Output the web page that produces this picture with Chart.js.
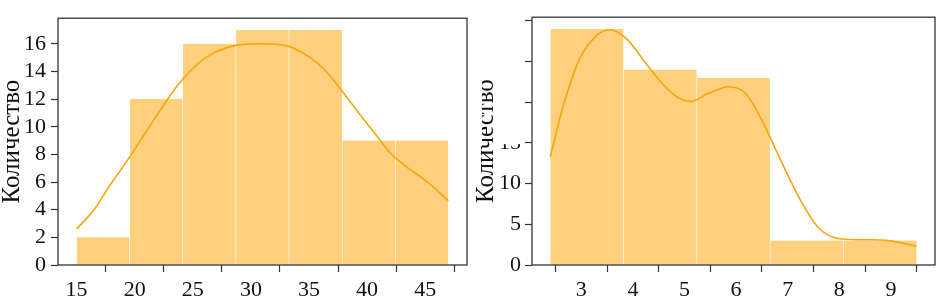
<!DOCTYPE html>
<html>
<head>
<meta charset="utf-8">
<script src="https://cdn.jsdelivr.net/npm/chart.js@4.4.1/dist/chart.umd.min.js"></script>
<style>
  body { margin: 0; background: #fff; }
  .wrap { position: relative; width: 942px; height: 298px; overflow: hidden; }
  canvas { position: absolute; top: 0; }
</style>
</head>
<body>
<div class="wrap">
  <canvas id="left" width="470" height="298" style="left:0"></canvas>
  <canvas id="right" width="472" height="298" style="left:470px"></canvas>
</div>
<script>
// левая гистограмма
const leftEdges = [15, 19.57, 24.14, 28.71, 33.29, 37.86, 42.43, 47];
const leftCounts = [2, 12, 16, 17, 17, 9, 9];
const leftKdeX = [15, 16.5, 17.9, 19.4, 20.8, 22.2, 23.7, 25.1, 26.5, 28.5, 30.8, 33.1, 35.1, 36.5, 37.7, 39.1, 40.6, 42.0, 43.4, 45.2, 47];
const leftKdeY = [2.6, 4.0, 5.8, 7.6, 9.4, 11.2, 13.0, 14.3, 15.2, 15.85, 16.0, 15.85, 15.0, 14.0, 12.75, 11.2, 9.6, 8.1, 7.1, 6.0, 4.65];
const leftXTicks = [15, 20, 25, 30, 35, 40, 45];
const leftYTicks = [0, 2, 4, 6, 8, 10, 12, 14, 16];

// правая гистограмма
const rightEdges = [2.4, 3.82, 5.24, 6.66, 8.08, 9.5];
const rightCounts = [29, 24, 23, 3, 3];
const rightKdeX = [2.4, 2.64, 2.96, 3.28, 3.54, 3.86, 4.25, 4.57, 4.89, 5.12, 5.47, 5.86, 6.18, 6.5, 6.76, 7.02, 7.27, 7.6, 8.04, 8.56, 8.95, 9.5];
const rightKdeY = [13.3, 19.3, 25.2, 28.1, 28.9, 27.9, 24.8, 22.3, 20.5, 20.1, 21.1, 21.9, 21.1, 17.8, 14.3, 10.8, 7.7, 4.55, 3.2, 3.1, 3.0, 2.3];
const rightXTicks = [3, 4, 5, 6, 7, 8, 9];
const rightYTicks = [0, 5, 10, 15, 20, 25, 30];

const yLabel = 'Количество';
const barColor = 'rgba(253, 163, 0, 0.51)';
const lineColor = 'rgb(248, 165, 10)';
const frameColor = '#333';

Chart.defaults.font.family = "'Liberation Serif', 'DejaVu Serif', serif";
Chart.defaults.font.size = 22;
Chart.defaults.color = '#111';

// рамка вокруг области графика
const framePlugin = {
    id: 'frame',
    afterDatasetsDraw(chart) {
        const a = chart.chartArea;
        const ctx = chart.ctx;
        ctx.save();
        ctx.strokeStyle = frameColor;
        ctx.lineWidth = 1.3;
        ctx.strokeRect(a.left, a.top, a.right - a.left, a.bottom - a.top);
        ctx.restore();
    }
};

// белая заплатка, которая прячет верх подписи справа
const maskPlugin = {
    id: 'mask',
    afterDraw(chart) {
        const ctx = chart.ctx;
        const yCut = chart.scales.y.getPixelForValue(14.6);
        ctx.save();
        ctx.fillStyle = '#fff';
        ctx.fillRect(0, 0, 12, yCut);
        ctx.fillRect(24, 0, chart.chartArea.left - 8 - 24, yCut - 2);
        ctx.restore();
    }
};

function makeHist(id, edges, counts, kdeX, kdeY, xTicks, yTicks, opts) {
    const bars = counts.map((c, i) => ({ x: (edges[i] + edges[i + 1]) / 2, y: c }));
    const kde = kdeX.map((x, i) => ({ x: x, y: kdeY[i] }));
    const span = edges[edges.length - 1] - edges[0];
    const xMin = edges[0] - span * 0.05;
    const xMax = edges[edges.length - 1] + span * 0.05;

    new Chart(document.getElementById(id), {
        type: 'bar',
        data: {
            datasets: [
                {
                    type: 'line',
                    data: kde,
                    xAxisID: 'x',
                    borderColor: lineColor,
                    borderWidth: 1.6,
                    pointRadius: 0,
                    cubicInterpolationMode: 'monotone',
                    fill: false,
                    order: 0
                },
                {
                    type: 'bar',
                    data: bars,
                    xAxisID: 'xb',
                    grouped: false,
                    backgroundColor: barColor,
                    borderColor: '#fff',
                    borderWidth: { left: 0.6, right: 0.6, top: 0, bottom: 0 },
                    barPercentage: 1,
                    categoryPercentage: 1,
                    order: 1
                }
            ]
        },
        options: {
            responsive: false,
            animation: false,
            devicePixelRatio: 1,
            layout: { padding: opts.padding },
            plugins: { legend: { display: false }, tooltip: { enabled: false } },
            scales: {
                x: {
                    type: 'linear',
                    offset: false,
                    min: xMin,
                    max: xMax,
                    grid: { display: true, drawOnChartArea: false, tickLength: 7, tickColor: frameColor, tickWidth: 1.2 },
                    border: { display: false },
                    ticks: { padding: 5, maxRotation: 0 },
                    afterBuildTicks: s => { s.ticks = xTicks.map(v => ({ value: v })); },
                    afterFit: s => { s.height = 33; }
                },
                // скрытая ось для столбцов, чтобы ширина столбца = ширина интервала
                xb: {
                    type: 'linear',
                    display: false,
                    offset: false,
                    min: xMin,
                    max: xMax,
                    afterBuildTicks: s => { s.ticks = []; }
                },
                y: {
                    min: 0,
                    max: opts.yMax,
                    grid: { display: true, drawOnChartArea: false, tickLength: 7, tickColor: frameColor, tickWidth: 1.2 },
                    border: { display: false },
                    ticks: { padding: opts.tickPad },
                    title: { display: true, text: yLabel, font: { size: 25 }, padding: { top: opts.titlePad, bottom: 0 } },
                    afterBuildTicks: s => { s.ticks = yTicks.map(v => ({ value: v })); },
                    afterFit: s => { s.width = opts.yWidth; }
                }
            }
        },
        plugins: opts.plugins
    });
}

makeHist('left', leftEdges, leftCounts, leftKdeX, leftKdeY, leftXTicks, leftYTicks, {
    padding: { left: 0, right: 3, top: 2, bottom: 0 },
    yMax: 17 * 1.05,
    yWidth: 58,
    tickPad: 5,
    titlePad: -3,
    plugins: [framePlugin]
});

makeHist('right', rightEdges, rightCounts, rightKdeX, rightKdeY, rightXTicks, rightYTicks, {
    padding: { left: 0, right: 7, top: 2, bottom: 0 },
    yMax: 29 * 1.05,
    yWidth: 62,
    tickPad: 4,
    titlePad: 1,
    plugins: [framePlugin, maskPlugin]
});
</script>
</body>
</html>
